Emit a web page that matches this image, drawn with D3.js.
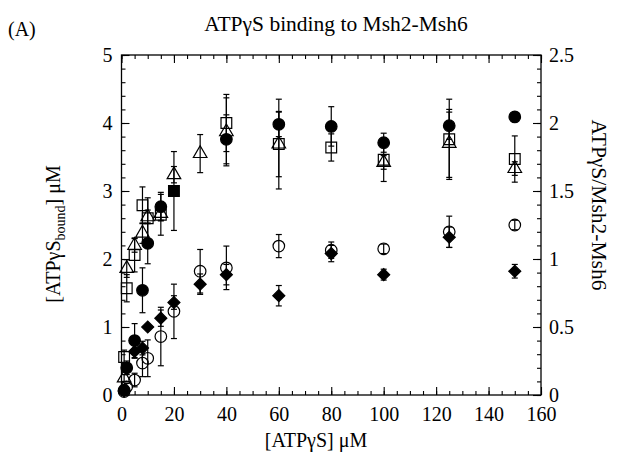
<!DOCTYPE html>
<html><head><meta charset="utf-8">
<script src="https://cdn.jsdelivr.net/npm/d3@7"></script>
<style>
body{margin:0;background:#fff}
text{font-family:"Liberation Serif","Times New Roman",serif;fill:#000}
</style>
</head><body>
<svg id="c" width="624" height="464"></svg>
<script>
// ---- data ----
const xTicks = [0, 20, 40, 60, 80, 100, 120, 140, 160];
const xMinorTicks = d3.range(0, 161, 5);
const yLeftTicks = [0, 1, 2, 3, 4, 5];
const yLeftMinorTicks = d3.range(0, 5.01, 0.2);
const yRightTicks = [0, 0.5, 1, 1.5, 2, 2.5];

const filledCircleX   = [1, 2, 5, 8, 10, 15, 40, 60, 80, 100, 125, 150];
const filledCircleY   = [0.07, 0.40, 0.80, 1.54, 2.23, 2.77, 3.76, 3.98, 3.95, 3.71, 3.96, 4.09];
const filledCircleErr = [0, 0.1, 0.25, 0.33, 0.3, 0.21, 0.36, 0.18, 0.29, 0.14, 0.2, 0];

const filledSquareX   = [20];
const filledSquareY   = [3.0];
const filledSquareErr = [0.58];

const openSquareX   = [1, 2, 5, 8, 10, 15, 40, 60, 80, 100, 125, 150];
const openSquareY   = [0.56, 1.57, 2.06, 2.79, 2.60, 2.65, 4.00, 3.69, 3.64, 3.46, 3.76, 3.47];
const openSquareErr = [0.1, 0.2, 0.25, 0.27, 0.3, 0.3, 0.42, 0.66, 0.2, 0.32, 0.59, 0.34];

const openTriangleX   = [1, 2, 5, 8, 10, 15, 20, 30, 40, 60, 100, 125, 150];
const openTriangleY   = [0.25, 1.86, 2.20, 2.38, 2.62, 2.67, 3.24, 3.55, 3.87, 3.69, 3.42, 3.70, 3.33];
const openTriangleErr = [0.05, 0.13, 0.1, 0.15, 0.1, 0.1, 0.12, 0.28, 0.5, 0.48, 0.1, 0.5, 0.1];

const openCircleX   = [1, 2, 5, 8, 10, 15, 20, 30, 40, 60, 80, 100, 125, 150];
const openCircleY   = [0.05, 0.12, 0.22, 0.47, 0.54, 0.86, 1.23, 1.82, 1.87, 2.19, 2.13, 2.15, 2.40, 2.50];
const openCircleErr = [0.03, 0.05, 0.1, 0.2, 0.27, 0.43, 0.4, 0.32, 0.32, 0.17, 0.12, 0.07, 0.23, 0.07];

const diamondX   = [1, 5, 8, 10, 15, 20, 30, 40, 60, 80, 100, 125, 150];
const diamondY   = [0.06, 0.64, 0.69, 1.00, 1.13, 1.36, 1.63, 1.77, 1.46, 2.08, 1.77, 2.32, 1.82];
const diamondErr = [0, 0.1, 0.1, 0, 0.12, 0.1, 0.15, 0.15, 0.15, 0.12, 0.08, 0.15, 0.1];

// ---- layout ----
const L = 121.5, R = 541, T = 55, B = 395;
const svg = d3.select("#c");
const x = d3.scaleLinear().domain([0, 160]).range([L, R]);
const y = d3.scaleLinear().domain([0, 5]).range([B, T]);
const y2 = d3.scaleLinear().domain([0, 2.5]).range([B, T]);

function zip(xs, ys, es){ return xs.map((v,i)=>({x:v, y:ys[i], e:es[i]})); }

const series = [
  {data: zip(openCircleX, openCircleY, openCircleErr), type: d3.symbolCircle, size: 105, fill: "none", rot: 0},
  {data: zip(diamondX, diamondY, diamondErr), type: d3.symbolSquare, size: 72, fill: "#000", rot: 45},
  {data: zip(openTriangleX, openTriangleY, openTriangleErr), type: d3.symbolTriangle, size: 80, fill: "none", rot: 0},
  {data: zip(openSquareX, openSquareY, openSquareErr), type: d3.symbolSquare, size: 115, fill: "none", rot: 0},
  {data: zip(filledCircleX, filledCircleY, filledCircleErr), type: d3.symbolCircle, size: 105, fill: "#000", rot: 0},
  {data: zip(filledSquareX, filledSquareY, filledSquareErr), type: d3.symbolSquare, size: 115, fill: "#000", rot: 0},
];

// axes box
svg.append("rect").attr("x", L).attr("y", T).attr("width", R-L).attr("height", B-T)
  .attr("fill","none").attr("stroke","#000").attr("stroke-width",1.3);

function styleAxis(g){ g.select(".domain").remove(); g.selectAll("line").attr("stroke","#000").attr("stroke-width",1.1);
  g.selectAll("text").style("font-family","'Liberation Serif',serif").style("font-size","20px").attr("fill","#000"); }

// bottom
svg.append("g").attr("transform",`translate(0,${B})`)
  .call(d3.axisBottom(x).tickValues(xMinorTicks).tickSize(-4).tickFormat("")).call(styleAxis);
svg.append("g").attr("transform",`translate(0,${B})`)
  .call(d3.axisBottom(x).tickValues(xTicks).tickSizeInner(-8).tickSizeOuter(0).tickPadding(12).tickFormat(d3.format("d"))).call(styleAxis);
// top
svg.append("g").attr("transform",`translate(0,${T})`)
  .call(d3.axisTop(x).tickValues(xMinorTicks).tickSize(-4).tickFormat("")).call(styleAxis);
svg.append("g").attr("transform",`translate(0,${T})`)
  .call(d3.axisTop(x).tickValues(xTicks).tickSize(-8).tickFormat("")).call(styleAxis);
// left
svg.append("g").attr("transform",`translate(${L},0)`)
  .call(d3.axisLeft(y).tickValues(yLeftMinorTicks).tickSize(-4).tickFormat("")).call(styleAxis);
svg.append("g").attr("transform",`translate(${L},0)`)
  .call(d3.axisLeft(y).tickValues(yLeftTicks).tickSizeInner(-8).tickSizeOuter(0).tickPadding(9).tickFormat(d3.format("d"))).call(styleAxis);
// right
svg.append("g").attr("transform",`translate(${R},0)`)
  .call(d3.axisRight(y).tickValues(yLeftMinorTicks).tickSize(-4).tickFormat("")).call(styleAxis);
svg.append("g").attr("transform",`translate(${R},0)`)
  .call(d3.axisRight(y2).tickValues(yRightTicks).tickSizeInner(-8).tickSizeOuter(0).tickPadding(8).tickFormat(d=>String(d))).call(styleAxis);

// error bars and markers
const cap = 3;
series.forEach(s => {
  const g = svg.append("g");
  const eb = s.data.filter(d => d.e > 0);
  g.selectAll("line.v").data(eb).join("line")
    .attr("x1", d=>x(d.x)).attr("x2", d=>x(d.x)).attr("y1", d=>y(d.y-d.e)).attr("y2", d=>y(d.y+d.e))
    .attr("stroke","#000").attr("stroke-width",1.2);
  g.selectAll("line.t").data(eb).join("line")
    .attr("x1", d=>x(d.x)-cap).attr("x2", d=>x(d.x)+cap).attr("y1", d=>y(d.y+d.e)).attr("y2", d=>y(d.y+d.e))
    .attr("stroke","#000").attr("stroke-width",1.2);
  g.selectAll("line.b").data(eb).join("line")
    .attr("x1", d=>x(d.x)-cap).attr("x2", d=>x(d.x)+cap).attr("y1", d=>y(d.y-d.e)).attr("y2", d=>y(d.y-d.e))
    .attr("stroke","#000").attr("stroke-width",1.2);
});
series.forEach(s => {
  svg.append("g").selectAll("path").data(s.data).join("path")
    .attr("d", d3.symbol().type(s.type).size(s.size))
    .attr("transform", d => `translate(${x(d.x)},${y(d.y)}) rotate(${s.rot})`)
    .attr("fill", s.fill).attr("stroke","#000").attr("stroke-width",1.2);
});

// texts
svg.append("text").attr("x", 8).attr("y", 36).style("font-size","20px").text("(A)");
svg.append("text").attr("x", 336).attr("y", 31).attr("text-anchor","middle").style("font-size","21.5px")
  .text("ATPγS binding to Msh2-Msh6");
svg.append("text").attr("x", 316).attr("y", 447).attr("text-anchor","middle").style("font-size","20px")
  .text("[ATPγS] μM");
const yl = svg.append("text").attr("transform","translate(60,234) rotate(-90)").attr("text-anchor","middle").style("font-size","20px");
yl.append("tspan").text("[ATPγS");
yl.append("tspan").attr("dy", 5).style("font-size","14px").text("bound");
yl.append("tspan").attr("dy", -5).text("] μM");
svg.append("text").attr("transform","translate(592,205) rotate(90)").attr("text-anchor","middle").style("font-size","21.5px")
  .text("ATPγS/Msh2-Msh6");
</script>
</body></html>
